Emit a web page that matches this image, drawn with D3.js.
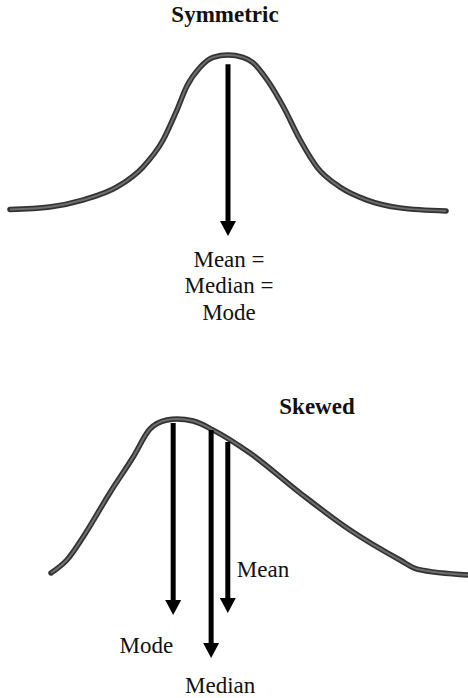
<!DOCTYPE html>
<html>
<head>
<meta charset="utf-8">
<script src="https://cdn.jsdelivr.net/npm/d3@7"></script>
<style>
    body { margin: 0; background: #fff; }
</style>
</head>
<body>
<div id="chart"></div>
<script>

// symmetric curve: position (sd units) and relative density
let symPos = [-4.5, -3.68, -3.0, -2.29, -1.76, -1.34, -1.05, -0.85, -0.58, -0.31, 0, 0.31, 0.52, 0.81, 1.14, 1.49, 1.84, 2.31, 2.87, 3.55, 4.5];
let symDensity = [0.01, 0.026, 0.07, 0.154, 0.28, 0.455, 0.65, 0.8, 0.92, 0.985, 1.0, 0.985, 0.95, 0.84, 0.67, 0.455, 0.28, 0.154, 0.07, 0.02, 0.0];

// skewed curve
let skewPos = [0, 0.38, 0.77, 1.41, 1.97, 2.37, 2.78, 3.02, 3.41, 3.89, 4.77, 5.97, 7.17, 8.37, 8.78, 10];
let skewDensity = [0.013, 0.096, 0.244, 0.526, 0.756, 0.935, 0.994, 1.0, 0.987, 0.929, 0.782, 0.526, 0.288, 0.096, 0.038, 0.0];

// arrows: where they sit, where they start and where the tip ends
let symArrows = [{name: "Mean =\nMedian =\nMode", pos: 0, top: 0.94, tip: -0.16}];
let skewArrows = [
    {name: "Mode", pos: 2.93, top: 0.974, tip: -0.256},
    {name: "Median", pos: 3.84, top: 0.93, tip: -0.532},
    {name: "Mean", pos: 4.24, top: 0.853, tip: -0.244}
];

let titles = ["Symmetric", "Skewed"];

let width = 468, height = 698;
let serif = "'Liberation Serif', 'Times New Roman', serif";

let svg = d3.select("#chart").append("svg")
    .attr("width", width)
    .attr("height", height);

// scales for the two panels
let xSym = d3.scaleLinear().domain([-4.5, 4.5]).range([10, 446]);
let ySym = d3.scaleLinear().domain([0, 1]).range([211, 55]);

let xSkew = d3.scaleLinear().domain([0, 10]).range([51, 468]);
let ySkew = d3.scaleLinear().domain([0, 1]).range([575, 419]);

function drawCurve(pos, dens, x, y) {
    let pts = pos.map((p, i) => [x(p), y(dens[i])]);
    let line = d3.line().curve(d3.curveMonotoneX);

    // dark outline + lighter core gives the scanned look
    svg.append("path")
        .attr("d", line(pts))
        .attr("fill", "none")
        .attr("stroke", "#333")
        .attr("stroke-width", 5.5)
        .attr("stroke-linecap", "round");
    svg.append("path")
        .attr("d", line(pts))
        .attr("fill", "none")
        .attr("stroke", "#6e6e6e")
        .attr("stroke-width", 2);
}

function drawArrow(a, x, y) {
    let cx = x(a.pos);
    let tipY = y(a.tip);
    let head = 15, half = 8;

    svg.append("line")
        .attr("x1", cx).attr("x2", cx)
        .attr("y1", y(a.top))
        .attr("y2", tipY - head + 1)
        .attr("stroke", "#000")
        .attr("stroke-width", 5);

    svg.append("path")
        .attr("d", `M${cx - half},${tipY - head} L${cx + half},${tipY - head} L${cx},${tipY} Z`)
        .attr("fill", "#000");
}

drawCurve(symPos, symDensity, xSym, ySym);
drawCurve(skewPos, skewDensity, xSkew, ySkew);

symArrows.forEach(a => drawArrow(a, xSym, ySym));
skewArrows.forEach(a => drawArrow(a, xSkew, ySkew));

function addText(x, y, s, anchor, bold) {
    return svg.append("text")
        .attr("x", x).attr("y", y)
        .attr("text-anchor", anchor)
        .style("font-family", serif)
        .style("font-size", "23px")
        .style("font-weight", bold ? "bold" : "normal")
        .attr("fill", "#111")
        .text(s);
}

// titles
addText(225, 22, titles[0], "middle", true);
addText(317, 414, titles[1], "middle", true);

// symmetric label, three lines under the arrow
symArrows.forEach(a => {
    a.name.split("\n").forEach((s, i) => {
        addText(xSym(a.pos) + 1, ySym(a.tip) + 31 + i * 26.5, s, "middle", false);
    });
});

// skewed labels
let skewLabelPlace = {
    Mode: {dx: 0, dy: 38, anchor: "end"},
    Median: {dx: 9, dy: 35, anchor: "middle"},
    Mean: {dx: 9, dy: -36, anchor: "start"}
};

skewArrows.forEach(a => {
    let p = skewLabelPlace[a.name];
    addText(xSkew(a.pos) + p.dx, ySkew(a.tip) + p.dy, a.name, p.anchor, false);
});

</script>
</body>
</html>
